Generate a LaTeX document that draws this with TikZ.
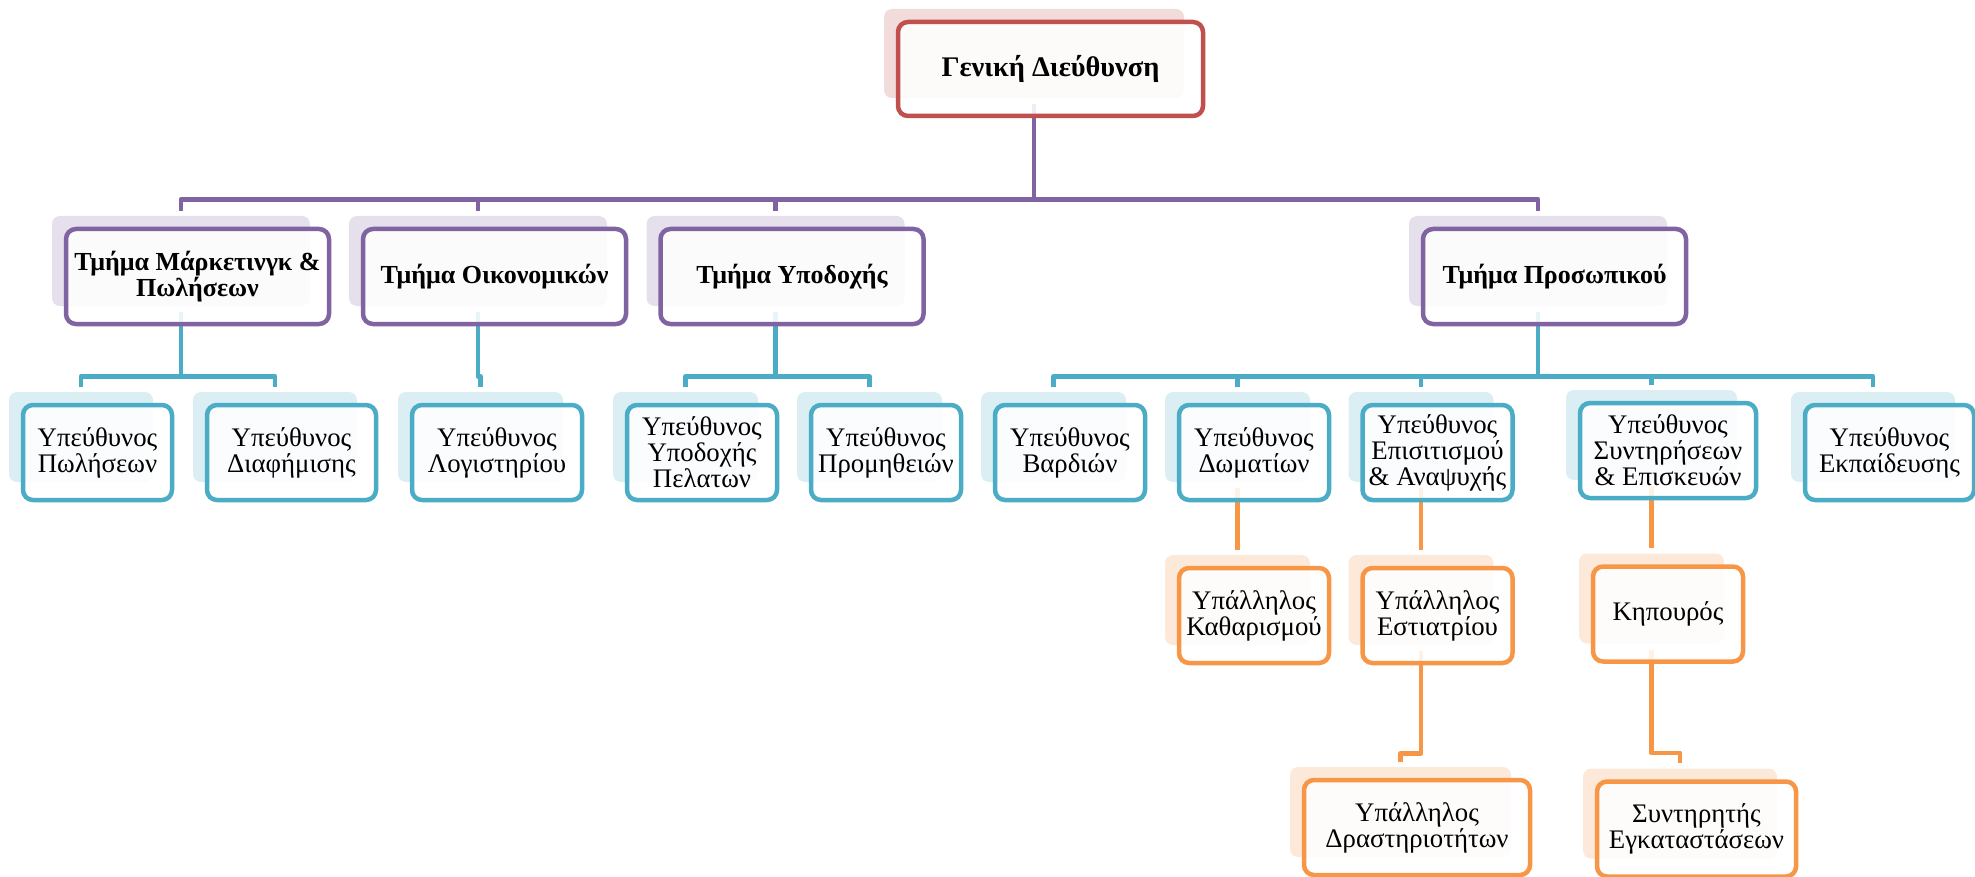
\documentclass[tikz,border=0pt]{standalone}
\usepackage{fontspec}
\setmainfont{Liberation Serif}

\definecolor{redline}{HTML}{C0504D}
\definecolor{redsh}{HTML}{F2DCDB}
\definecolor{purpleline}{HTML}{8064A2}
\definecolor{purplesh}{HTML}{E5E0EC}
\definecolor{aqualine}{HTML}{4BACC6}
\definecolor{aquash}{HTML}{DAEEF3}
\definecolor{orangeline}{HTML}{F79646}
\definecolor{orangesh}{HTML}{FDE9D9}

\tikzset{
  shade/.style={fill=#1, rounded corners=4pt, inner sep=0pt},
  lvl2/.style={minimum width=129pt, minimum height=45pt},
  lvl3/.style={minimum width=72.5pt, minimum height=45pt},
  card/.style={draw=#1, line width=2.25pt, rounded corners=5pt, fill=white,
    fill opacity=0.88, text opacity=1, align=center, inner sep=1pt,
    minimum height=47.5pt, font=\fontsize{13.4}{13}\selectfont},
  headcard/.style={card=#1, font=\bfseries\fontsize{13}{13}\selectfont},
  link/.style={draw=#1, line width=2.4pt, line join=round, shorten <=3pt, shorten >=2.5pt}
}

\begin{document}
\begin{tikzpicture}[x=0.5pt,y=-0.5pt]
\useasboundingbox (0,0) rectangle (1975,877);

\node[shade=redsh, minimum width=150pt, minimum height=44.5pt] (gd) at (1034,53.5) {};

\node[shade=purplesh, lvl2] (mar) at (181,261) {};
\node[shade=purplesh, lvl2] (oik) at (478,261) {};
\node[shade=purplesh, lvl2] (ypd) at (775.5,261) {};
\node[shade=purplesh, lvl2] (pros) at (1538,261) {};

\node[shade=aquash, lvl3, minimum width=72pt] (pol) at (81,437) {};
\node[shade=aquash, lvl3, minimum width=82pt] (dia) at (275,437) {};
\node[shade=aquash, lvl3, minimum width=82.5pt] (log) at (480.5,437) {};
\node[shade=aquash, lvl3] (pel) at (685.5,437) {};
\node[shade=aquash, lvl3] (prom) at (869.5,437) {};
\node[shade=aquash, lvl3] (bard) at (1053.5,437) {};
\node[shade=aquash, lvl3] (dom) at (1237.5,437) {};
\node[shade=aquash, lvl3] (epis) at (1421,437) {};
\node[shade=aquash, lvl3, minimum width=85.5pt] (synt) at (1651.5,435) {};
\node[shade=aquash, lvl3, minimum width=82pt] (ekp) at (1873,437) {};

\node[shade=orangesh, lvl3] (kath) at (1237.5,600) {};
\node[shade=orangesh, lvl3] (est) at (1421,600) {};
\node[shade=orangesh, lvl3] (kip) at (1651.5,598.5) {};
\node[shade=orangesh, lvl3, minimum width=110.5pt] (drast) at (1400.5,812) {};
\node[shade=orangesh, lvl3, minimum width=97pt] (egk) at (1680,813.5) {};


\draw[link=purpleline] (gd.south) -- ++(0,101) -| (mar.north);
\draw[link=purpleline] (gd.south) -- ++(0,101) -| (oik.north);
\draw[link=purpleline] (gd.south) -- ++(0,101) -| (ypd.north);
\draw[link=purpleline] (gd.south) -- ++(0,101) -| (pros.north);

\draw[link=aqualine] (mar.south) -- ++(0,70) -| (pol.north);
\draw[link=aqualine] (mar.south) -- ++(0,70) -| (dia.north);
\draw[link=aqualine] (oik.south) -- ++(0,70) -| (log.north);
\draw[link=aqualine] (ypd.south) -- ++(0,70) -| (pel.north);
\draw[link=aqualine] (ypd.south) -- ++(0,70) -| (prom.north);
\draw[link=aqualine] (pros.south) -- ++(0,70) -| (bard.north);
\draw[link=aqualine] (pros.south) -- ++(0,70) -| (dom.north);
\draw[link=aqualine] (pros.south) -- ++(0,70) -| (epis.north);
\draw[link=aqualine] (pros.south) -- ++(0,70) -| (synt.north);
\draw[link=aqualine] (pros.south) -- ++(0,70) -| (ekp.north);

\draw[link=orangeline] (dom.south) -- (kath.north);
\draw[link=orangeline] (epis.south) -- (est.north);
\draw[link=orangeline] (synt.south) -- (kip.north);
\draw[link=orangeline] (est.south) -- ++(0,108) -| (drast.north);
\draw[link=orangeline] (kip.south) -- ++(0,109) -| (egk.north);


\node[card=redline, minimum width=152.5pt, minimum height=47pt, font=\bfseries\fontsize{14.2}{14}\selectfont] (gd-box) at ([shift={(16.5,15.5)}]gd.center) {Γενική Διεύθυνση};

\node[headcard=purpleline, minimum width=131.5pt] (mar-box) at ([shift={(16.5,15.5)}]mar.center) {Τμήμα Μάρκετινγκ \&\\Πωλήσεων};
\node[headcard=purpleline, minimum width=131.5pt] (oik-box) at ([shift={(16.5,15.5)}]oik.center) {Τμήμα Οικονομικών};
\node[headcard=purpleline, minimum width=131.5pt] (ypd-box) at ([shift={(16.5,15.5)}]ypd.center) {Τμήμα Υποδοχής};
\node[headcard=purpleline, minimum width=131.5pt] (pros-box) at ([shift={(16.5,15.5)}]pros.center) {Τμήμα Προσωπικού};

\node[card=aqualine, minimum width=74.5pt] (pol-box) at ([shift={(16.5,15.5)}]pol.center) {Υπεύθυνος\\Πωλήσεων};
\node[card=aqualine, minimum width=84.5pt] (dia-box) at ([shift={(16.5,15.5)}]dia.center) {Υπεύθυνος\\Διαφήμισης};
\node[card=aqualine, minimum width=85pt] (log-box) at ([shift={(16.5,15.5)}]log.center) {Υπεύθυνος\\Λογιστηρίου};
\node[card=aqualine, minimum width=75pt] (pel-box) at ([shift={(16.5,15.5)}]pel.center) {Υπεύθυνος\\Υποδοχής\\Πελατων};
\node[card=aqualine, minimum width=75pt] (prom-box) at ([shift={(16.5,15.5)}]prom.center) {Υπεύθυνος\\Προμηθειών};
\node[card=aqualine, minimum width=75pt] (bard-box) at ([shift={(16.5,15.5)}]bard.center) {Υπεύθυνος\\Βαρδιών};
\node[card=aqualine, minimum width=75pt] (dom-box) at ([shift={(16.5,15.5)}]dom.center) {Υπεύθυνος\\Δωματίων};
\node[card=aqualine, minimum width=75pt] (epis-box) at ([shift={(16.5,15.5)}]epis.center) {Υπεύθυνος\\Επισιτισμού\\\& Αναψυχής};
\node[card=aqualine, minimum width=88pt] (synt-box) at ([shift={(16.5,15.5)}]synt.center) {Υπεύθυνος\\Συντηρήσεων\\\& Επισκευών};
\node[card=aqualine, minimum width=84.5pt] (ekp-box) at ([shift={(16.5,15.5)}]ekp.center) {Υπεύθυνος\\Εκπαίδευσης};

\node[card=orangeline, minimum width=75pt] (kath-box) at ([shift={(16.5,15.5)}]kath.center) {Υπάλληλος\\Καθαρισμού};
\node[card=orangeline, minimum width=75pt] (est-box) at ([shift={(16.5,15.5)}]est.center) {Υπάλληλος\\Εστιατρίου};
\node[card=orangeline, minimum width=75pt] (kip-box) at ([shift={(16.5,15.5)}]kip.center) {Κηπουρός};
\node[card=orangeline, minimum width=113pt] (drast-box) at ([shift={(16.5,15.5)}]drast.center) {Υπάλληλος\\Δραστηριοτήτων};
\node[card=orangeline, minimum width=99.5pt] (egk-box) at ([shift={(16.5,15.5)}]egk.center) {Συντηρητής\\Εγκαταστάσεων};
\end{tikzpicture}
\end{document}
